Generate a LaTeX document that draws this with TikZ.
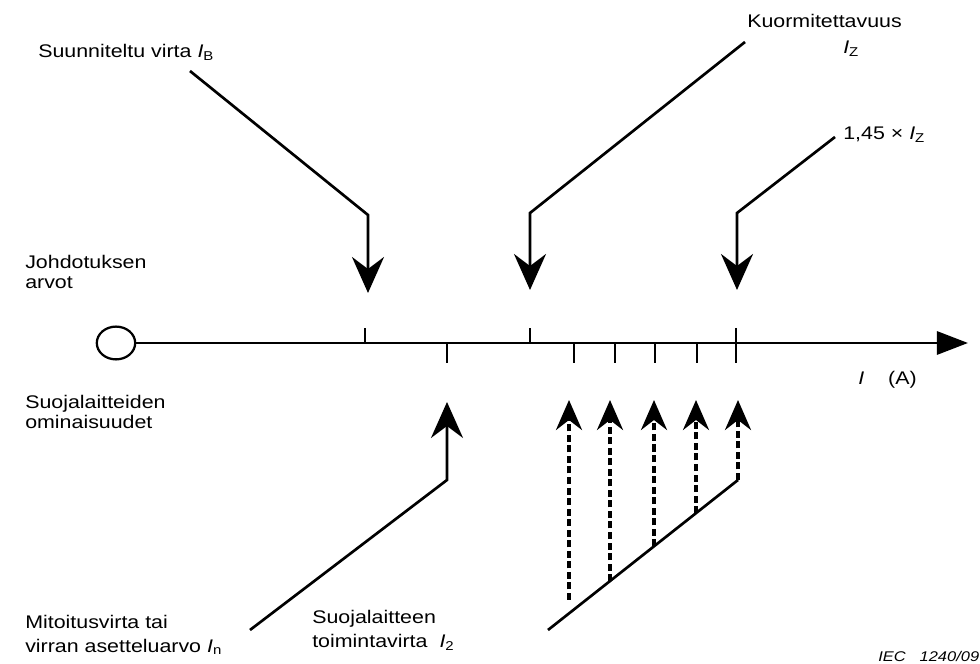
\documentclass[tikz,border=0pt]{standalone}
\usepackage{fontspec}
\setmainfont{Liberation Sans}[FakeStretch=1.17]
\usetikzlibrary{arrows.meta,shapes.geometric}

\begin{document}
\begin{tikzpicture}[
  font=\fontsize{13}{14.2}\selectfont,
  lbl/.style={inner sep=0pt, align=left},
  tickm/.style={line width=1.8pt},
  axisl/.style={line width=2pt, -{Triangle[length=7.8mm, width=5.8mm]}},
  lead/.style={line width=1.9pt, -{Stealth[length=9mm, width=8mm, inset=3mm]}},
  dlead/.style={line width=2.8pt, dash pattern=on 5pt off 2.5pt,
                -{Stealth[length=7.5mm, width=6.5mm, inset=2.5mm]}},
  orig/.style={draw, line width=1.6pt, ellipse, minimum width=9.6mm,
               minimum height=8.2mm, inner sep=0pt}
]
\useasboundingbox (0,0) rectangle (24.5,16.6);

% --- labels ----------------------------------------------------------------
\node[lbl, anchor=base west] (ib) at (0.95,15.15) {Suunniteltu virta \textit{I}\textsubscript{B}};
\node[lbl, anchor=base west] (kz) at (18.675,15.9) {Kuormitettavuus};
\node[lbl, anchor=base west] (iz) at (21.075,15.25) {\textit{I}\textsubscript{Z}};
\node[lbl, anchor=base west] (fz) at (21.075,13.1) {1,45 × \textit{I}\textsubscript{Z}};
\node[lbl, anchor=west] (jv) at (0.625,9.79) {Johdotuksen\\arvot};
\node[lbl, anchor=west] (so) at (0.625,6.3) {Suojalaitteiden\\ominaisuudet};
\node[lbl, anchor=base west] (ia) at (21.45,6.975) {\textit{I}\hspace{0.6cm}(A)};
\node[lbl, anchor=west] (mv) at (0.625,0.725)
  {Mitoitusvirta tai\\[2.8pt]virran asetteluarvo \textit{I}\textsubscript{n}};
\node[lbl, anchor=west] (st) at (7.8,0.85)
  {Suojalaitteen\\[2.8pt]toimintavirta\hspace{0.3cm}\textit{I}\textsubscript{2}};
\node[lbl, anchor=base west, font=\fontsize{10}{11}\selectfont\itshape] (iec)
  at (21.95,0.05) {IEC\hspace{0.35cm}1240/09};

% --- axis ------------------------------------------------------------------
\node[orig] (o) at (2.9,8.025) {};
\coordinate (axend) at (24.2,8.025);
\draw[axisl] (o.east) -- (axend);

\foreach \x in {9.125,13.25} \draw[tickm] (\x,8.025) -- ++(0,0.375);
\foreach \x in {11.175,14.35,15.375,16.375,17.425} \draw[tickm] (\x,8.025) -- ++(0,-0.5);
\draw[tickm] (18.4,8.4) -- (18.4,7.525);

% --- leaders ---------------------------------------------------------------
\coordinate (ibS) at (4.75,14.825);  \coordinate (ibK) at (9.2,11.225);   \coordinate (ibT) at (9.2,9.275);
\coordinate (izS) at (18.625,15.55); \coordinate (izK) at (13.25,11.275); \coordinate (izT) at (13.25,9.35);
\coordinate (fzS) at (20.875,13.175);\coordinate (fzK) at (18.425,11.275);\coordinate (fzT) at (18.425,9.35);
\coordinate (inS) at (6.25,0.85);    \coordinate (inK) at (11.175,4.6);   \coordinate (inT) at (11.175,6.55);

\foreach \t in {ib,iz,fz,in} \draw[lead] (\t S) -- (\t K) -- (\t T);

% --- I2 spread -------------------------------------------------------------
\coordinate (dA) at (13.7,0.85);
\coordinate (dB) at (18.45,4.6);
\draw[line width=1.9pt] (dA) -- (dB);
\foreach \i/\x/\y in {1/14.225/1.6, 2/15.25/2.07, 3/16.35/2.94, 4/17.4/3.77, 5/18.45/4.6}{
  \coordinate (d\i) at (\x,\y);
  \coordinate (u\i) at (\x,6.6);
  \draw[dlead] (d\i) -- (u\i);
}
\end{tikzpicture}
\end{document}
